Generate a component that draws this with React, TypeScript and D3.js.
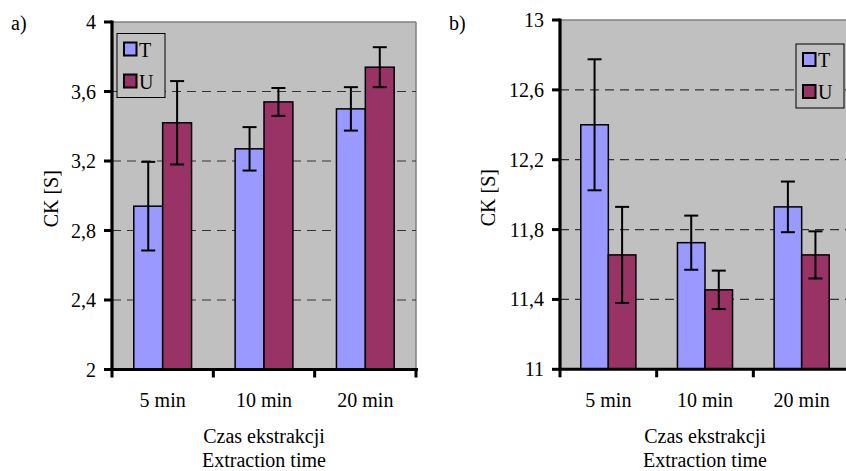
import React from "react";
import * as d3 from "d3";

const categories = ["5 min", "10 min", "20 min"];
const seriesNames = ["T", "U"];
const colors = ["#9999FF", "#993366"];

const aValuesT = [2.94, 3.27, 3.5];
const aValuesU = [3.42, 3.54, 3.74];
const aErrT = [0.255, 0.125, 0.125];
const aErrU = [0.24, 0.08, 0.115];
const aTicks = [2, 2.4, 2.8, 3.2, 3.6, 4];

const bValuesT = [12.4, 11.725, 11.93];
const bValuesU = [11.655, 11.455, 11.655];
const bErrT = [0.375, 0.155, 0.145];
const bErrU = [0.275, 0.11, 0.135];
const bTicks = [11, 11.4, 11.8, 12.2, 12.6, 13];

const FONT = '"Liberation Serif", serif';
const txt: React.CSSProperties = { fontFamily: FONT, fontSize: "20px" };

type PanelProps = {
  label: string;
  labelX: number;
  left: number;
  right: number;
  top: number;
  bottom: number;
  domain: [number, number];
  ticks: number[];
  values: number[][];
  errs: number[][];
  legendX: number;
  legendY: number;
  clipRight: number;
  yLabelX: number;
};

function fmt(v: number) {
  return Number.isInteger(v) ? String(v) : v.toFixed(1).replace(".", ",");
}

function Panel(p: PanelProps) {
  const x = d3.scaleBand<string>().domain(categories).range([p.left, p.right]).paddingInner(0.43).paddingOuter(0.215);
  const inner = d3.scaleBand<string>().domain(seriesNames).range([0, x.bandwidth()]);
  const y = d3.scaleLinear().domain(p.domain).range([p.bottom, p.top]);
  const step = (p.right - p.left) / categories.length;
  const cx = (p.left + p.right) / 2;
  const clipId = "clip" + p.label.replace(")", "");
  return (
    <g>
      <defs>
        <clipPath id={clipId}>
          <rect x={0} y={0} width={p.clipRight} height={471} />
        </clipPath>
      </defs>
      <text x={p.labelX} y={30} style={txt}>{p.label}</text>
      <g clipPath={`url(#${clipId})`}>
        <rect x={p.left} y={p.top} width={p.right - p.left} height={p.bottom - p.top} fill="#C0C0C0" />
        <line x1={p.left} x2={p.right} y1={p.top} y2={p.top} stroke="#808080" strokeWidth={1.5} />
        <line x1={p.right} x2={p.right} y1={p.top} y2={p.bottom} stroke="#808080" strokeWidth={1.5} />
        {p.ticks.slice(1, -1).map((t) => (
          <line key={t} x1={p.left} x2={p.right} y1={y(t)} y2={y(t)} stroke="#333" strokeWidth={1.2} strokeDasharray="9,6" />
        ))}
        {categories.map((c, i) =>
          seriesNames.map((s, j) => {
            const v = p.values[j][i];
            const e = p.errs[j][i];
            const bx = (x(c) as number) + (inner(s) as number);
            const bw = inner.bandwidth();
            const mx = bx + bw / 2;
            return (
              <g key={c + s}>
                <rect x={bx} y={y(v)} width={bw} height={p.bottom - y(v)} fill={colors[j]} stroke="#000" strokeWidth={1.5} />
                <line x1={mx} x2={mx} y1={y(v + e)} y2={y(v - e)} stroke="#000" strokeWidth={2} />
                <line x1={mx - 7} x2={mx + 7} y1={y(v + e)} y2={y(v + e)} stroke="#000" strokeWidth={2} />
                <line x1={mx - 7} x2={mx + 7} y1={y(v - e)} y2={y(v - e)} stroke="#000" strokeWidth={2} />
              </g>
            );
          })
        )}
        <line x1={p.left} x2={p.right + 2} y1={p.bottom} y2={p.bottom} stroke="#000" strokeWidth={3} />
        {d3.range(categories.length + 1).map((i) => (
          <line key={i} x1={p.left + i * step} x2={p.left + i * step} y1={p.bottom} y2={p.bottom + 8} stroke="#000" strokeWidth={3} />
        ))}
        <g>
          <rect x={p.legendX} y={p.legendY} width={48} height={64} fill="#C0C0C0" stroke="#000" strokeWidth={1} />
          {seriesNames.map((s, j) => (
            <g key={s}>
              <rect x={p.legendX + 7} y={p.legendY + 9 + j * 32} width={12.5} height={13} fill={colors[j]} stroke="#000" strokeWidth={2} />
              <text x={p.legendX + 22} y={p.legendY + 23 + j * 32} style={txt}>{s}</text>
            </g>
          ))}
        </g>
      </g>
      <line x1={p.left} x2={p.left} y1={p.top - 1.5} y2={p.bottom + 1.5} stroke="#000" strokeWidth={3.2} />
      {p.ticks.map((t) => (
        <g key={t}>
          <line x1={p.left - 8} x2={p.left} y1={y(t)} y2={y(t)} stroke="#000" strokeWidth={3} />
          <text x={p.left - 16} y={y(t)} dy="0.35em" textAnchor="end" style={txt}>{fmt(t)}</text>
        </g>
      ))}
      {categories.map((c, i) => (
        <text key={c} x={p.left + (i + 0.5) * step} y={407} textAnchor="middle" style={txt}>{c}</text>
      ))}
      <text x={cx} y={443} textAnchor="middle" style={txt}>Czas ekstrakcji</text>
      <text x={cx} y={467} textAnchor="middle" style={txt}>Extraction time</text>
      <text transform={`translate(${p.yLabelX},${(p.top + p.bottom) / 2 + 3}) rotate(-90)`} dy="0.35em" textAnchor="middle" style={txt}>CK [S]</text>
    </g>
  );
}

export default function App() {
  return (
    <svg width={846} height={471} style={{ position: "absolute", left: 0, top: 0, background: "#fff" }}>
      <Panel label="a)" labelX={11} left={112} right={416} top={22} bottom={369.5} domain={[2, 4]} ticks={aTicks}
        values={[aValuesT, aValuesU]} errs={[aErrT, aErrU]} legendX={117} legendY={33.5} clipRight={423} yLabelX={51} />
      <Panel label="b)" labelX={449} left={560} right={850} top={20} bottom={369.3} domain={[11, 13]} ticks={bTicks}
        values={[bValuesT, bValuesU]} errs={[bErrT, bErrU]} legendX={796} legendY={44} clipRight={846} yLabelX={488} />
    </svg>
  );
}
